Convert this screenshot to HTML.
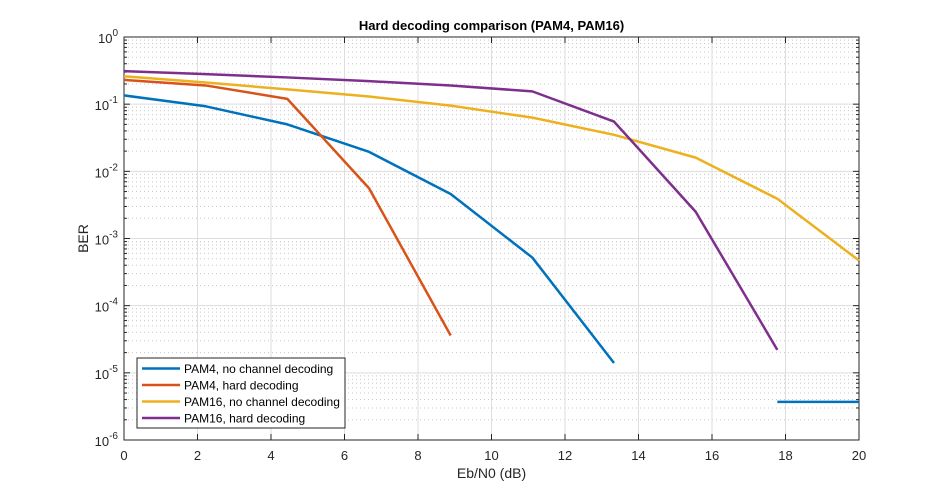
<!DOCTYPE html>
<html><head><meta charset="utf-8"><style>
body{margin:0;background:#fff;font-family:"Liberation Sans",sans-serif}
svg text{font-family:"Liberation Sans",sans-serif}
</style></head><body>
<svg id="chart" width="950" height="496"></svg>
<script>
const xVals=[0,2.222,4.444,6.667,8.889,11.111,13.333,15.556,17.778,20];
const pam4None=[0.135,0.093,0.05,0.0195,0.0046,0.00052,1.4e-5,null,3.7e-6,3.7e-6];
const pam4Hard=[0.23,0.19,0.12,0.0056,3.6e-5];
const pam16None=[0.26,0.21,0.166,0.13,0.095,0.063,0.035,0.016,0.0039,0.00047];
const pam16Hard=[0.31,0.28,0.25,0.22,0.19,0.155,0.055,0.0025,2.2e-5];
const xTicks=[0,2,4,6,8,10,12,14,16,18,20];
const yExps=[0,-1,-2,-3,-4,-5,-6];
const seriesNames=["PAM4, no channel decoding","PAM4, hard decoding","PAM16, no channel decoding","PAM16, hard decoding"];
const colors=["#0072bd","#d95319","#edb120","#7e2f8e"];
const L=124,R=859,T=37,B=440;
const sx=v=>L+(v-0)/20*(R-L);
const sy=v=>T+(-Math.log10(v))/6*(B-T);
const svg=document.getElementById('chart');
const NS="http://www.w3.org/2000/svg";
function mk(t,a,p){const e=document.createElementNS(NS,t);for(const k in a)e.setAttribute(k,a[k]);(p||svg).appendChild(e);return e;}
for(let d=0;d<6;d++)for(let m=2;m<=9;m++){const y=sy(Math.pow(10,-d-1)*m);
const g=mk('line',{x1:L,x2:R,y1:y,y2:y,stroke:'#c8c8c8','stroke-dasharray':'1,3','stroke-width':1});

mk('line',{x1:L,x2:L+3,y1:y,y2:y,stroke:'#262626'});mk('line',{x1:R,x2:R-3,y1:y,y2:y,stroke:'#262626'});}
xTicks.forEach(v=>{const x=sx(v);
const g=mk('line',{x1:x,x2:x,y1:T,y2:B,stroke:'#dedede'});

mk('line',{x1:x,x2:x,y1:B,y2:B-6,stroke:'#262626'});mk('line',{x1:x,x2:x,y1:T,y2:T+6,stroke:'#262626'});
const t=mk('text',{x:x,y:B+20,'text-anchor':'middle','font-size':13,fill:'#262626'});t.textContent=v;
});
yExps.forEach(e=>{const y=sy(Math.pow(10,e));
const g=mk('line',{x1:L,x2:R,y1:y,y2:y,stroke:'#dedede'});

mk('line',{x1:L,x2:L+6,y1:y,y2:y,stroke:'#262626'});mk('line',{x1:R,x2:R-6,y1:y,y2:y,stroke:'#262626'});
const t=mk('text',{x:L-6,y:y+6,'text-anchor':'end','font-size':13,fill:'#262626'});
t.innerHTML='10<tspan dy="-7" font-size="10">'+e+'</tspan>';
});
const box=mk('rect',{x:L,y:T,width:R-L,height:B-T,fill:'none',stroke:'#262626'});

[pam4None,pam4Hard,pam16None,pam16Hard].forEach((s,i)=>{
let segs=[],cur=[];s.forEach((v,j)=>{if(v==null){if(cur.length)segs.push(cur);cur=[];}else cur.push(sx(xVals[j])+','+sy(v));});
if(cur.length)segs.push(cur);
segs.forEach(c=>{const p=mk('polyline',{points:c.join(' '),fill:'none',stroke:colors[i],'stroke-width':2.5,'stroke-linejoin':'round'});
});});
const title=mk('text',{x:(L+R)/2,y:30,'text-anchor':'middle','font-size':13,'font-weight':'bold',fill:'#000'});
title.textContent='Hard decoding comparison (PAM4, PAM16)';

const xl=mk('text',{x:(L+R)/2,y:478,'text-anchor':'middle','font-size':14,fill:'#262626'});xl.textContent='Eb/N0 (dB)';

const yl=mk('text',{x:88,y:(T+B)/2,'text-anchor':'middle','font-size':14,fill:'#262626',transform:'rotate(-90 88 '+(T+B)/2+')'});yl.textContent='BER';

const lg=mk('g',{});
mk('rect',{x:137,y:358,width:208,height:70,fill:'#fff',stroke:'#262626'},lg);
seriesNames.forEach((n,i)=>{const y=368.5+i*16.5;
const l=mk('line',{x1:142,x2:180,y1:y,y2:y,stroke:colors[i],'stroke-width':2.5},lg);

const t=mk('text',{x:184,y:y+4.5,'font-size':12,fill:'#000'},lg);t.textContent=n;
});
</script>
</body></html>
